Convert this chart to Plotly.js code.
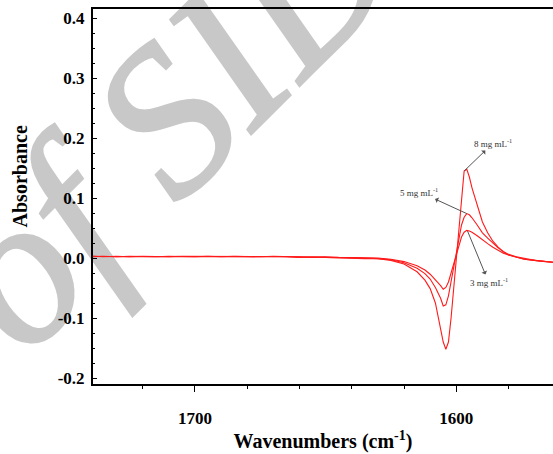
<!DOCTYPE html>
<html>
<head>
<meta charset="utf-8">
<script src="https://cdn.plot.ly/plotly-3.0.1.min.js"></script>
<style>
  html, body { margin: 0; padding: 0; background: #ffffff; }
  #wrap { position: relative; width: 553px; height: 454px; overflow: hidden; }
  #wm { position: absolute; left: 0; top: 0; }
  #wm text { font-family: 'Liberation Serif', 'DejaVu Serif', serif; font-style: italic; font-size: 210px; fill: #c8c8c8; stroke: #c8c8c8; stroke-width: 3px; }
  #chart { position: absolute; left: 0; top: 0; width: 553px; height: 454px; }
</style>
</head>
<body>
<div id="wrap">
  <svg id="wm" width="553" height="454">
    <text x="25" y="360" transform="rotate(-45 25 360)">of SID</text>
  </svg>
  <div id="chart"></div>
</div>
<script>
// Wavenumbers (cm-1)
const wavenumbers = [1739, 1735, 1730, 1725, 1720, 1715, 1710, 1705, 1700, 1695, 1690, 1685, 1680, 1675, 1670, 1665, 1660, 1655, 1650, 1645, 1640, 1635, 1630,
  1625, 1620, 1615, 1612, 1610, 1608, 1606, 1605, 1604, 1603, 1602, 1601, 1600, 1599, 1598, 1597, 1596, 1595, 1594, 1592, 1590, 1588, 1586, 1584, 1582, 1580, 1577, 1574, 1570, 1566, 1563];

// Absorbance, 3 mg mL-1
const abs3 = [0.003, 0.002, 0.003, 0.002, 0.003, 0.002, 0.002, 0.003, 0.003, 0.002, 0.003, 0.002, 0.003, 0.002, 0.002, 0.002, 0.002, 0.001, 0.002, 0.001, 0.001, 0.000, 0.000,
  -0.002, -0.006, -0.013, -0.020, -0.027, -0.036, -0.046, -0.052, -0.049, -0.040, -0.025, -0.008, 0.008, 0.022, 0.035, 0.043, 0.046, 0.045, 0.043, 0.037, 0.030, 0.024, 0.018, 0.013, 0.008, 0.005, 0.001, -0.002, -0.004, -0.006, -0.007];

// Absorbance, 5 mg mL-1
const abs5 = [0.002, 0.003, 0.002, 0.002, 0.003, 0.003, 0.002, 0.002, 0.003, 0.003, 0.002, 0.002, 0.003, 0.003, 0.002, 0.002, 0.001, 0.002, 0.001, 0.001, 0.000, 0.000, -0.001,
  -0.003, -0.008, -0.017, -0.026, -0.035, -0.049, -0.067, -0.080, -0.078, -0.063, -0.040, -0.014, 0.012, 0.035, 0.055, 0.068, 0.074, 0.072, 0.067, 0.055, 0.042, 0.033, 0.025, 0.017, 0.011, 0.006, 0.002, -0.001, -0.004, -0.006, -0.007];

// Absorbance, 8 mg mL-1
const abs8 = [0.003, 0.002, 0.002, 0.003, 0.002, 0.002, 0.003, 0.002, 0.002, 0.003, 0.002, 0.003, 0.002, 0.002, 0.003, 0.002, 0.002, 0.001, 0.001, 0.000, 0.000, -0.001, -0.001,
  -0.004, -0.010, -0.023, -0.037, -0.051, -0.075, -0.115, -0.140, -0.152, -0.140, -0.100, -0.050, 0.000, 0.045, 0.100, 0.145, 0.148, 0.135, 0.117, 0.088, 0.060, 0.042, 0.028, 0.018, 0.010, 0.005, 0.001, -0.002, -0.004, -0.006, -0.007];

const yTickVals = [-0.2, -0.1, 0.0, 0.1, 0.2, 0.3, 0.4];
const yTickText = ['-0.2', '-0.1', '0.0', '0.1', '0.2', '0.3', '0.4'];
const xTickVals = [1700, 1600];
const xTickText = ['1700', '1600'];

const lineStyle = { color: '#ff1a1a', width: 1.1 };
const traces = [
  { x: wavenumbers, y: abs3, name: '3 mg mL-1', mode: 'lines', line: lineStyle },
  { x: wavenumbers, y: abs5, name: '5 mg mL-1', mode: 'lines', line: lineStyle },
  { x: wavenumbers, y: abs8, name: '8 mg mL-1', mode: 'lines', line: lineStyle }
];

const serif = 'Liberation Serif, Times New Roman, serif';
const labelFont = { family: serif, size: 9, color: '#333333' };
const arrowCommon = { showarrow: true, arrowside: 'start', arrowhead: 2, arrowsize: 1, arrowwidth: 1, arrowcolor: '#555555', font: labelFont, xref: 'x', yref: 'y', standoff: 0, startstandoff: 0 };
const bold = s => '<b>' + s + '</b>';

const layout = {
  width: 553, height: 454,
  margin: { l: 93, r: 0, t: 9, b: 70 },
  paper_bgcolor: 'rgba(0,0,0,0)',
  plot_bgcolor: 'rgba(0,0,0,0)',
  showlegend: false,
  font: { family: serif, color: '#000000' },
  xaxis: {
    range: [1739, 1563],
    tickmode: 'array', tickvals: xTickVals, ticktext: xTickText.map(bold),
    ticks: 'outside', ticklen: 6, tickwidth: 1, tickcolor: '#000000',
    minor: { dtick: 20, tick0: 1600, ticks: 'outside', ticklen: 3, tickwidth: 1, tickcolor: '#000000', showgrid: false },
    showline: true, linewidth: 2, linecolor: '#000000', mirror: true,
    showgrid: false, zeroline: false,
    tickfont: { family: serif, size: 17, color: '#000000', weight: 'bold' },
    ticklabelstandoff: 12,
    title: { text: '<b>Wavenumbers (cm<sup>-1</sup>)</b>', font: { family: serif, size: 20, color: '#000000' }, standoff: 7 }
  },
  yaxis: {
    range: [-0.21, 0.415],
    tickmode: 'array', tickvals: yTickVals, ticktext: yTickText.map(bold),
    ticks: 'inside', ticklen: 4, tickwidth: 1, tickcolor: '#000000',
    minor: { dtick: 0.025, tick0: 0, ticks: 'inside', ticklen: 2, tickwidth: 1, tickcolor: '#000000', showgrid: false },
    showline: true, linewidth: 2, linecolor: '#000000', mirror: false,
    showgrid: false, zeroline: false,
    tickfont: { family: serif, size: 17, color: '#000000', weight: 'bold' },
    ticklabelstandoff: 3
  },
  annotations: [
    { xref: 'paper', yref: 'paper', x: (20 - 93) / 460, y: (383 - 176) / 374, xanchor: 'center', yanchor: 'middle', textangle: -90,
      text: '<b>Absorbance</b>', showarrow: false, font: { family: serif, size: 20, color: '#000000' } },
    Object.assign({}, arrowCommon, { x: 1597, y: 0.145, ax: 29, ay: -28, text: '8 mg mL<sup>-1</sup>' }),
    Object.assign({}, arrowCommon, { x: 1596, y: 0.074, ax: -48, ay: -22, text: '5 mg mL<sup>-1</sup>' }),
    Object.assign({}, arrowCommon, { x: 1595.7, y: 0.045, ax: 21, ay: 51, text: '3 mg mL<sup>-1</sup>' })
  ]
};

Plotly.newPlot('chart', traces, layout, { displayModeBar: false, staticPlot: true });
</script>
</body>
</html>
